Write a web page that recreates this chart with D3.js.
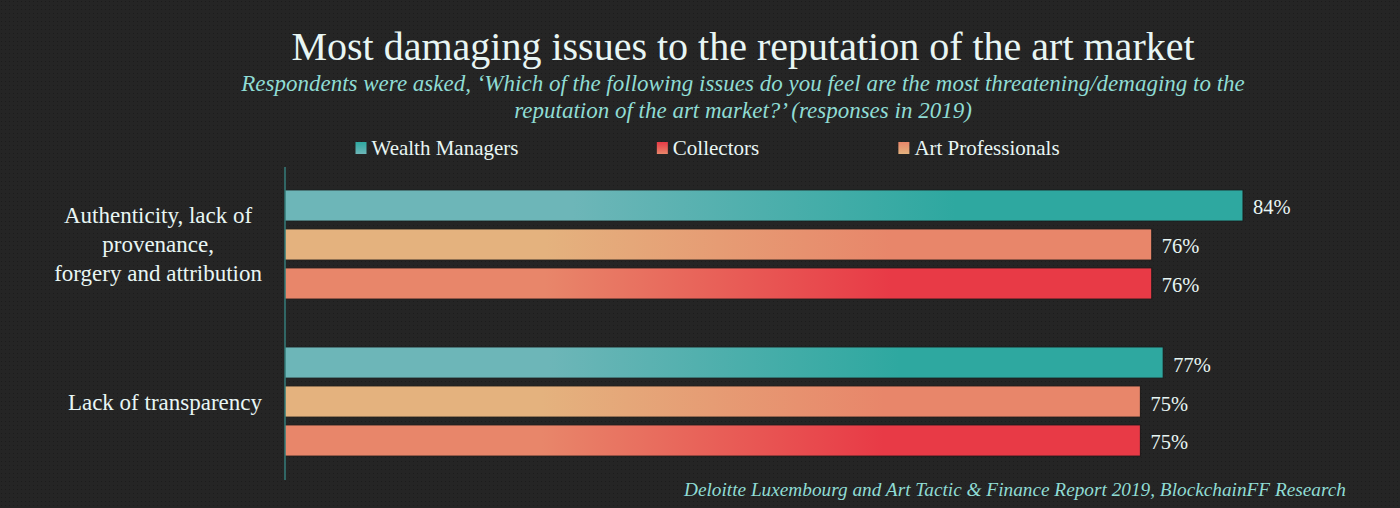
<!DOCTYPE html>
<html>
<head>
<meta charset="utf-8">
<script src="https://cdnjs.cloudflare.com/ajax/libs/d3/7.8.5/d3.min.js"></script>
<style>
  html, body { margin: 0; padding: 0; background: #242424; }
  svg { display: block; }
</style>
</head>
<body>
<div id="chart"></div>
<script>
var categories = [
  ['Authenticity, lack of', 'provenance,', 'forgery and attribution'],
  ['Lack of transparency']
];
var seriesNames = ['Wealth Managers', 'Art Professionals', 'Collectors'];
var legendOrder = ['Wealth Managers', 'Collectors', 'Art Professionals'];
var wealthManagers = [84, 77];
var artProfessionals = [76, 75];
var collectors = [76, 75];
var titleText = 'Most damaging issues to the reputation of the art market';
var subtitleLines = [
  'Respondents were asked, \u2018Which of the following issues do you feel are the most threatening/demaging to the',
  'reputation of the art market?\u2019 (responses in 2019)'
];
var sourceText = 'Deloitte Luxembourg and Art Tactic & Finance Report 2019, BlockchainFF Research';

var values = [wealthManagers, artProfessionals, collectors];
var gradients = {
  'Wealth Managers': ['#6db6b8', '#2ea8a0'],
  'Art Professionals': ['#e4b27e', '#e8866a'],
  'Collectors': ['#e8866a', '#e83a46']
};

var W = 1400, H = 508;
var serif = "'Liberation Serif', 'DejaVu Serif', serif";
var light = '#e8f6f4';
var teal = '#8fdcd4';

var svg = d3.select('#chart').append('svg')
  .attr('width', W)
  .attr('height', H);

var defs = svg.append('defs');

// speckled background
var pat = defs.append('pattern')
  .attr('id', 'dots')
  .attr('width', 4).attr('height', 4)
  .attr('patternUnits', 'userSpaceOnUse');
pat.append('rect').attr('width', 4).attr('height', 4).attr('fill', '#252525');
pat.append('rect').attr('x', 1).attr('y', 1).attr('width', 1).attr('height', 1).attr('fill', '#1c1c1c');
svg.append('rect').attr('width', W).attr('height', H).attr('fill', 'url(#dots)');

seriesNames.forEach(function(name, i) {
  var g = defs.append('linearGradient')
    .attr('id', 'grad' + i)
    .attr('x1', '0%').attr('x2', '100%').attr('y1', '0%').attr('y2', '0%');
  g.append('stop').attr('offset', '30%').attr('stop-color', gradients[name][0]);
  g.append('stop').attr('offset', '70%').attr('stop-color', gradients[name][1]);
  var v = defs.append('linearGradient')
    .attr('id', 'vgrad' + i)
    .attr('x1', '0%').attr('x2', '0%').attr('y1', '0%').attr('y2', '100%');
  v.append('stop').attr('offset', '0%').attr('stop-color', gradients[name][1]);
  v.append('stop').attr('offset', '100%').attr('stop-color', gradients[name][0]);
});

// title
svg.append('text')
  .attr('x', 743).attr('y', 60)
  .attr('text-anchor', 'middle')
  .attr('font-family', serif)
  .attr('font-size', 40)
  .attr('fill', light)
  .text(titleText);

svg.selectAll('.subtitle').data(subtitleLines).enter().append('text')
  .attr('class', 'subtitle')
  .attr('x', 743)
  .attr('y', function(d, i) { return 91 + i * 27; })
  .attr('text-anchor', 'middle')
  .attr('font-family', serif)
  .attr('font-style', 'italic')
  .attr('font-size', 23)
  .attr('fill', teal)
  .text(function(d) { return d; });

// legend
var legend = svg.selectAll('.legend').data(legendOrder).enter().append('g')
  .attr('class', 'legend');
legend.append('text')
  .attr('x', 0).attr('y', 155)
  .attr('font-family', serif)
  .attr('font-size', 21)
  .attr('fill', light)
  .text(function(d) { return d; });
legend.each(function(d, i) {
  var g = d3.select(this);
  var tw = g.select('text').node().getComputedTextLength();
  var itemW = 16 + tw;
  var cx = 437 + i * 271;
  g.attr('transform', 'translate(' + (cx - itemW / 2) + ',0)');
  g.select('text').attr('x', 16);
  g.append('rect')
    .attr('x', 0).attr('y', 142)
    .attr('width', 11).attr('height', 12)
    .attr('fill', 'url(#vgrad' + seriesNames.indexOf(d) + ')');
});

// scales
var x = d3.scaleLinear().domain([0, 100]).range([285, 285 + 1140.5]);
var y0 = d3.scaleBand().domain(d3.range(categories.length)).range([186, 460]).paddingInner(0.255);
var y1 = d3.scaleBand().domain(seriesNames).range([0, y0.bandwidth()]).paddingInner(0.2).paddingOuter(0.1);

var groups = svg.selectAll('.group').data(categories).enter().append('g')
  .attr('class', 'group')
  .attr('transform', function(d, i) { return 'translate(0,' + y0(i) + ')'; });

groups.each(function(cat, ci) {
  var g = d3.select(this);
  var rows = seriesNames.map(function(name, si) {
    return { name: name, si: si, value: values[si][ci] };
  });
  g.selectAll('rect').data(rows).enter().append('rect')
    .attr('x', x(0))
    .attr('y', function(d) { return y1(d.name); })
    .attr('width', function(d) { return x(d.value) - x(0); })
    .attr('height', y1.bandwidth())
    .attr('fill', function(d) { return 'url(#grad' + d.si + ')'; })
    .attr('stroke', '#1a1a1a')
    .attr('stroke-width', 1);
  g.selectAll('.val').data(rows).enter().append('text')
    .attr('class', 'val')
    .attr('x', function(d) { return x(d.value) + 10; })
    .attr('y', function(d) { return y1(d.name) + y1.bandwidth() / 2 + 9; })
    .attr('font-family', serif)
    .attr('font-size', 20.5)
    .attr('fill', light)
    .text(function(d) { return d.value + '%'; });

  // category label, lines centred inside a right-aligned block
  var lab = g.append('g');
  var lines = lab.selectAll('text').data(cat).enter().append('text')
    .attr('font-family', serif)
    .attr('font-size', 23)
    .attr('fill', light)
    .attr('text-anchor', 'middle')
    .text(function(d) { return d; });
  var maxW = d3.max(lines.nodes(), function(n) { return n.getComputedTextLength(); });
  var mid = y0.bandwidth() / 2;
  var lh = 29;
  lines
    .attr('x', 262 - maxW / 2)
    .attr('y', function(d, i) { return mid + (i - (cat.length - 1) / 2) * lh + 8; });
});

// axis line
svg.append('line')
  .attr('x1', x(0)).attr('x2', x(0))
  .attr('y1', 167).attr('y2', 480)
  .attr('stroke', '#3fa9a6')
  .attr('stroke-width', 1);

// source
svg.append('text')
  .attr('x', 1346).attr('y', 496)
  .attr('text-anchor', 'end')
  .attr('font-family', serif)
  .attr('font-style', 'italic')
  .attr('font-size', 19.3)
  .attr('fill', teal)
  .text(sourceText);
</script>
</body>
</html>
